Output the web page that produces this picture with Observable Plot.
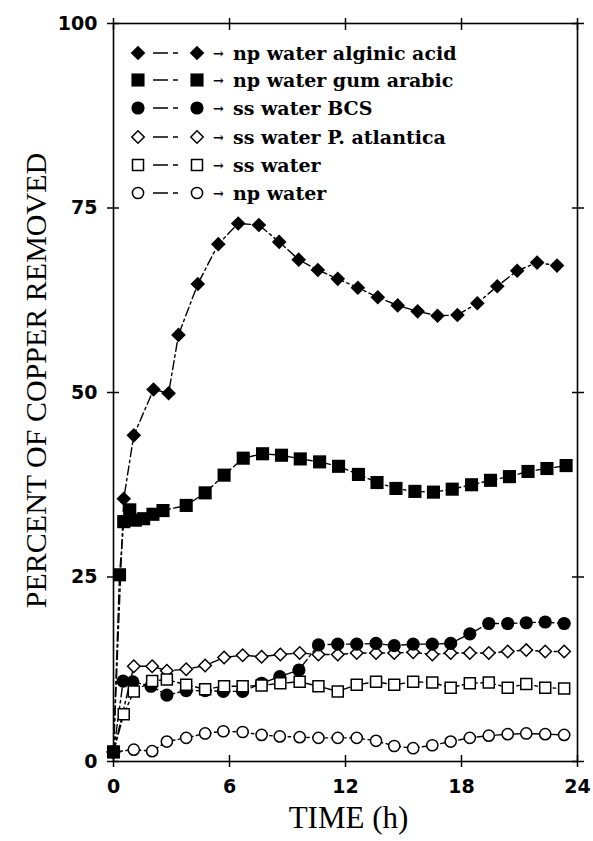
<!DOCTYPE html>
<html><head><meta charset="utf-8">
<script src="https://cdn.jsdelivr.net/npm/d3@7"></script>
<script src="https://cdn.jsdelivr.net/npm/@observablehq/plot@0.6"></script>
<style>
body{margin:0;background:#fff;}
#wrap{position:relative;width:593px;height:841px;background:#fff;}
#legend{position:absolute;left:0;top:0;font-family:"DejaVu Serif",serif;font-weight:bold;font-size:19px;color:#000;}
.row{position:absolute;left:128px;height:28px;display:flex;align-items:center;white-space:nowrap;}
.row svg{display:block;}
.arrow{width:20px;margin-left:3px;font-size:13px;}
</style></head><body><div id="wrap"><div id="legend"></div></div>
<script>
// ---- data ----
const seriesNames = ["np water alginic acid","np water gum arabic","ss water BCS","ss water P. atlantica","ss water","np water"];

const tAlginic = [0,0.53,1.05,2.07,2.85,3.36,4.36,5.42,6.45,7.52,8.57,9.58,10.57,11.6,12.64,13.67,14.7,15.73,16.76,17.79,18.82,19.85,20.88,21.91,22.94];
const vAlginic = [1.3,35.6,44.2,50.4,49.9,57.8,64.7,70.1,72.9,72.7,70.4,68.0,66.6,65.4,64.2,62.9,61.8,61.0,60.4,60.5,62.1,64.4,66.5,67.6,67.2];

const tGum = [0,0.31,0.53,0.84,1.13,1.56,2.04,2.56,3.76,4.74,5.72,6.71,7.71,8.69,9.66,10.66,11.64,12.67,13.63,14.61,15.59,16.55,17.52,18.52,19.5,20.48,21.44,22.42,23.41];
const vGum = [1.3,25.3,32.5,34.1,32.7,32.9,33.5,34.0,34.7,36.4,38.8,41.1,41.7,41.5,41.0,40.6,40.0,38.9,37.8,37.0,36.6,36.5,36.9,37.5,38.1,38.6,39.3,39.7,40.1];

const tBCS = [0,0.5,1.0,1.94,2.76,3.76,4.74,5.68,6.68,7.66,8.6,9.59,10.6,11.6,12.58,13.58,14.52,15.5,16.49,17.44,18.43,19.41,20.39,21.35,22.33,23.31];
const vBCS = [1.3,10.9,10.8,10.2,9.0,9.6,9.6,9.5,9.5,10.6,11.5,12.4,15.8,15.9,15.9,16.0,15.7,15.9,15.9,16.0,17.3,18.7,18.7,18.8,18.9,18.7];

const tAtl = [0,1.05,2.0,2.76,3.76,4.74,5.72,6.68,7.66,8.63,9.63,10.6,11.6,12.58,13.58,14.52,15.5,16.49,17.44,18.43,19.41,20.39,21.35,22.33,23.31];
const vAtl = [1.3,12.9,12.9,12.3,12.5,13.0,14.1,14.4,14.2,14.5,14.7,14.5,14.5,14.7,14.7,14.7,14.8,14.5,14.7,14.7,14.7,14.9,15.1,14.9,14.9];

const tSS = [0,0.53,1.05,2.0,2.76,3.76,4.74,5.72,6.68,7.66,8.63,9.63,10.6,11.6,12.58,13.58,14.52,15.5,16.49,17.44,18.43,19.41,20.39,21.35,22.33,23.31];
const vSS = [1.3,6.4,9.5,10.9,11.1,10.4,9.8,10.2,10.2,10.3,10.6,10.8,10.2,9.5,10.4,10.8,10.4,10.8,10.7,10.0,10.6,10.7,10.0,10.5,10.0,9.9];

const tNP = [0,1.05,2.0,2.76,3.76,4.74,5.68,6.68,7.66,8.6,9.63,10.6,11.6,12.58,13.58,14.52,15.5,16.49,17.44,18.43,19.41,20.39,21.35,22.33,23.31];
const vNP = [1.3,1.6,1.4,2.7,3.2,3.8,4.1,4.0,3.6,3.4,3.3,3.2,3.2,3.2,2.8,2.1,1.8,2.2,2.7,3.2,3.5,3.7,3.8,3.7,3.6];

const xTicks = [0,6,12,18,24];
const yTicks = [0,25,50,75,100];
const xTitle = "TIME (h)";
const yTitle = "PERCENT OF COPPER REMOVED";

// ---- styles per series ----
const styles = [
  {symbol:"diamond2", fill:"black", r:6.6, sw:0},
  {symbol:"square", fill:"black", r:7.4, sw:0},
  {symbol:"circle", fill:"black", r:6.6, sw:0},
  {symbol:"diamond2", fill:"white", r:5.6, sw:1.5},
  {symbol:"square", fill:"white", r:6.2, sw:1.5},
  {symbol:"circle", fill:"white", r:5.6, sw:1.5}
];
const ts = [tAlginic,tGum,tBCS,tAtl,tSS,tNP];
const vs = [vAlginic,vGum,vBCS,vAtl,vSS,vNP];
const series = seriesNames.map((name,i)=>ts[i].map((t,j)=>({name,t,v:vs[i][j]})));

const dash = "9,3.5,2.5,3.5";
const drawOrder = [3,2,4,5,1,0];

const marks = [];
for (const i of drawOrder) {
  marks.push(Plot.line(series[i], {x:"t", y:"v", stroke:"black", strokeWidth:1.4, strokeDasharray:dash}));
}
for (const i of drawOrder) {
  const s = styles[i];
  marks.push(Plot.dot(series[i], {x:"t", y:"v", symbol:()=>s.symbol, r:s.r, fill:s.fill, stroke: s.sw ? "black" : "none", strokeWidth:s.sw}));
}

const chart = Plot.plot({
  width:593, height:841,
  marginLeft:113, marginRight:16, marginTop:23, marginBottom:80,
  x:{domain:[0,24]},
  y:{domain:[0,100]},
  symbol:{type:"identity"},
  style:{fontFamily:"'DejaVu Sans', sans-serif", background:"white", color:"black"},
  marks:[
    ...marks,
    Plot.frame({stroke:"black", strokeWidth:1.6}),
    Plot.axisX({ticks:xTicks, tickSize:12, dy:-6, text:null, label:null, strokeWidth:1.5}),
    Plot.axisX({anchor:"top", ticks:xTicks, tickSize:12, dy:6, text:null, label:null, strokeWidth:1.5}),
    Plot.axisY({ticks:yTicks, tickSize:12, dx:6, text:null, label:null, strokeWidth:1.5}),
    Plot.axisY({anchor:"right", ticks:yTicks, tickSize:12, dx:-6, text:null, label:null, strokeWidth:1.5}),
    Plot.axisX({ticks:xTicks, tickSize:0, tickPadding:18, label:null, fontSize:19, fontWeight:"bold"}),
    Plot.axisY({ticks:yTicks, tickSize:0, tickPadding:16, label:null, fontSize:19, fontWeight:"bold"}),
    Plot.text([xTitle], {text:d=>d, frameAnchor:"bottom", textAnchor:"middle", dy:66, dx:3, fontSize:31, fontFamily:"'Liberation Serif', serif"}),
    Plot.text([yTitle], {text:d=>d, frameAnchor:"left", textAnchor:"middle", rotate:-90, dx:-77, dy:-12, fontSize:30, fontFamily:"'Liberation Serif', serif"})
  ]
});
document.getElementById("wrap").prepend(chart);
chart.style.display = "block";

// ---- legend ----
const legend = document.getElementById("legend");
const rowCenters = [53,80,108,137,165,193];
const symMap = {diamond2:d3.symbolDiamond2, square:d3.symbolSquare, circle:d3.symbolCircle};
seriesNames.forEach((name,i)=>{
  const s = styles[i];
  const row = document.createElement("div");
  row.className = "row";
  row.style.top = (rowCenters[i]-14)+"px";
  const svg = d3.create("svg").attr("width",82).attr("height",28);
  const path = d3.symbol(symMap[s.symbol], Math.PI*s.r*s.r)();
  svg.append("line").attr("x1",25).attr("x2",58).attr("y1",14).attr("y2",14)
    .attr("stroke","black").attr("stroke-width",1.6).attr("stroke-dasharray","15,5,5");
  for (const cx of [10,69]) {
    svg.append("path").attr("d",path).attr("transform",`translate(${cx},14)`)
      .attr("fill",s.fill).attr("stroke",s.sw?"black":"none").attr("stroke-width",s.sw);
  }
  row.appendChild(svg.node());
  const arr = document.createElement("span"); arr.className="arrow"; arr.textContent="→";
  row.appendChild(arr);
  const lab = document.createElement("span"); lab.textContent = name;
  row.appendChild(lab);
  legend.appendChild(row);
});
</script>
</body></html>
